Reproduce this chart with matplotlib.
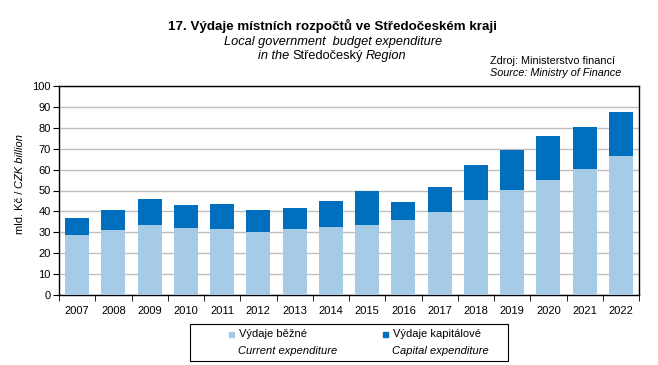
# Výdaje místních rozpočtů ve Středočeském kraji - stacked bar chart
import numpy as np
import matplotlib.pyplot as plt
from matplotlib.patches import Rectangle

plt.rcParams['font.family'] = ['Liberation Sans', 'DejaVu Sans']

# Data (mld. Kč)
years = ['2007', '2008', '2009', '2010', '2011', '2012', '2013', '2014',
         '2015', '2016', '2017', '2018', '2019', '2020', '2021', '2022']
current = [28.8, 31.2, 33.6, 32.2, 31.7, 30.3, 31.7, 32.6,
           33.6, 36.0, 39.8, 45.5, 50.3, 55.1, 60.4, 66.6]
total = [36.9, 40.8, 46.0, 43.2, 43.6, 40.8, 41.7, 45.1,
         49.8, 44.6, 51.8, 62.3, 69.4, 76.1, 80.4, 87.6]
capital = [t - c for t, c in zip(total, current)]
yticks = list(range(0, 101, 10))

col_current = '#A6CBE6'
col_capital = '#0070BE'

fig = plt.figure(figsize=(6.58, 3.65), dpi=100)
W, H = 658, 365
ax = fig.add_axes([59 / W, 1 - 295 / H, (639 - 59) / W, (295 - 86) / H])

x = np.arange(len(years))
ax.bar(x, current, width=0.66, color=col_current, zorder=3)
ax.bar(x, capital, bottom=current, width=0.66, color=col_capital, zorder=3)

ax.set_xlim(-0.5, len(years) - 0.5)
ax.set_ylim(0, 100)
ax.set_yticks(yticks)
ax.yaxis.grid(True, color='#BFBFBF', linewidth=1, zorder=0)
ax.tick_params(axis='y', length=4, direction='out', labelsize=8, pad=2)

# year labels centred, tick marks between categories
ax.set_xticks(x)
ax.set_xticklabels(years, fontsize=8)
ax.tick_params(axis='x', which='major', length=0, pad=8)
ax.set_xticks(np.arange(-0.5, len(years)), minor=True)
ax.tick_params(axis='x', which='minor', length=4, direction='out')

for s in ax.spines.values():
    s.set_color('black')
    s.set_linewidth(1)

# y label with italic English part
fig.text(20 / W, 1 - 188 / H, 'mld. Kč / ', rotation=90, fontsize=8,
         ha='center', va='top')
fig.text(20 / W, 1 - 188 / H, 'CZK billion', rotation=90, fontsize=8,
         style='italic', ha='center', va='bottom')

# Titles
fig.text(332 / W, 1 - 26 / H, '17. Výdaje místních rozpočtů ve Středočeském kraji',
         fontsize=9.6, fontweight='bold', ha='center', va='center')
fig.text(333 / W, 1 - 42 / H, 'Local government  budget expenditure',
         fontsize=9.2, style='italic', ha='center', va='center')

# second subtitle line: mixed italic / upright, chained word by word
renderer = fig.canvas.get_renderer()
parts = [('in the', 'italic'), ('Středočeský', 'normal'), ('Region', 'italic')]
gap = 3
texts = [fig.text(0, 1 - 56 / H, p, fontsize=9.2, style=st, ha='left', va='center')
         for p, st in parts]
widths = [t.get_window_extent(renderer).width for t in texts]
xpos = 332 - (sum(widths) + gap * (len(widths) - 1)) / 2
for t, w in zip(texts, widths):
    t.set_x(xpos / W)
    xpos += w + gap

# Source
fig.text(490 / W, 1 - 61 / H, 'Zdroj: Ministerstvo financí', fontsize=7.8,
         ha='left', va='center')
fig.text(490 / W, 1 - 73 / H, 'Source: Ministry of Finance', fontsize=7.8,
         style='italic', ha='left', va='center')

# Legend box drawn by hand
fig.patches.append(Rectangle((190 / W, 1 - 361 / H), (508 - 190) / W, (361 - 324) / H,
                             transform=fig.transFigure, fill=False,
                             edgecolor='black', linewidth=0.8))
for lx, col, lab, lab_en in [(229, col_current, 'Výdaje běžné', 'Current expenditure'),
                             (383, col_capital, 'Výdaje kapitálové', 'Capital expenditure')]:
    fig.patches.append(Rectangle((lx / W, 1 - 337 / H), 5 / W, 5 / H,
                                 transform=fig.transFigure, color=col))
    fig.text((lx + 10) / W, 1 - 334 / H, lab, fontsize=8, ha='left', va='center')
    fig.text((lx + 9) / W, 1 - 351 / H, lab_en, fontsize=8, style='italic',
             ha='left', va='center')

fig.savefig('out.png', dpi=100)
